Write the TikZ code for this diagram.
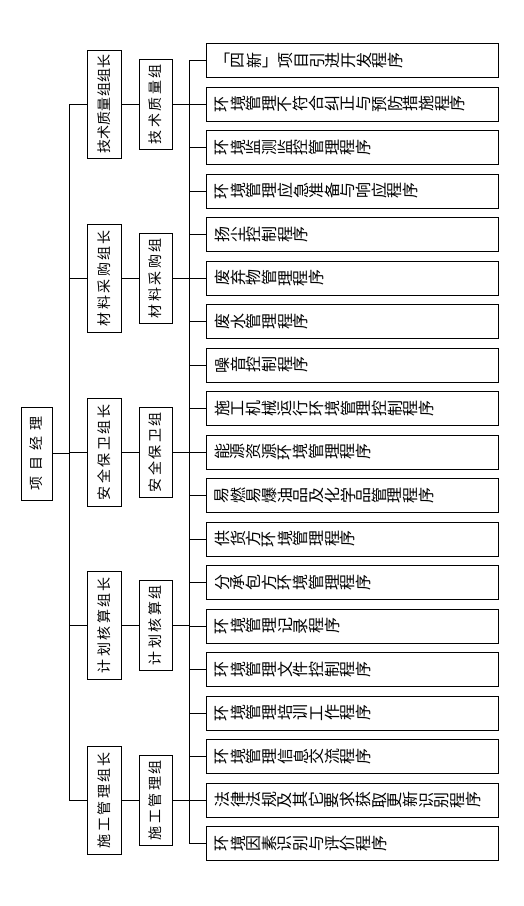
\documentclass[tikz,border=0pt]{standalone}
\usepackage{fontspec}
\usepackage{graphicx}
\newfontfamily\cjk{Noto Sans CJK SC}
\newcommand\rc[1]{\rcI#1\relax}
\def\rcI#1{\ifx\relax#1\else\makebox[15.7pt]{\rotatebox[origin=c]{90}{#1}}\expandafter\rcI\fi}
\tikzset{
  every path/.style={line width=0.9pt},
  leafbox/.style={draw, line width=0.9pt, anchor=west, minimum width=292pt, minimum height=34pt,
    text width=276pt, inner xsep=8pt, align=left, font=\cjk\fontsize{16pt}{16pt}\selectfont},
  lvone/.style={draw, line width=0.9pt, rotate=90, minimum width=108pt, minimum height=34pt, inner sep=0pt,
    font=\cjk\fontsize{14pt}{14pt}\selectfont},
  lvtwo/.style={draw, line width=0.9pt, rotate=90, minimum width=90pt, minimum height=33pt, inner sep=0pt,
    font=\cjk\fontsize{14pt}{14pt}\selectfont},
  rootbox/.style={draw, line width=0.9pt, rotate=90, minimum width=93pt, minimum height=31pt, inner sep=0pt,
    font=\cjk\fontsize{14pt}{14pt}\selectfont}
}
\begin{document}
\begin{tikzpicture}[x=1pt,y=-1pt]
\useasboundingbox (0,0) rectangle (523,906);
% leaves
\foreach \t [count=\i from 0] in {
  {「\rc{四新}」\rc{项目引进开发程序}},
  {\rc{环境管理不符合纠正与预防措施程序}},
  {\rc{环境监测监控管理程序}},
  {\rc{环境管理应急准备与响应程序}},
  {\rc{扬尘控制程序}},
  {\rc{废弃物管理程序}},
  {\rc{废水管理程序}},
  {\rc{噪音控制程序}},
  {\rc{施工机械运行环境管理控制程序}},
  {\rc{能源资源环境管理程序}},
  {\rc{易燃易爆油品及化学品管理程序}},
  {\rc{供货方环境管理程序}},
  {\rc{分承包方环境管理程序}},
  {\rc{环境管理记录程序}},
  {\rc{环境管理文件控制程序}},
  {\rc{环境管理培训工作程序}},
  {\rc{环境管理信息交流程序}},
  {\rc{法律法规及其它要求获取更新识别程序}},
  {\rc{环境因素识别与评价程序}}}
{
  \node[leafbox] (leaf\i) at (206, {60.5+43.5*\i}) {\t};
}
% root
\node[rootbox] (root) at (36.5,453.5) {\makebox[74pt]{项\hfill 目\hfill 经\hfill 理}};
% level one
\node[lvone] (l1a) at (104,104) {\makebox[99pt]{技\hfill 术\hfill 质\hfill 量\hfill 组\hfill 组\hfill 长}};
\node[lvone] (l1b) at (104,278) {\makebox[96pt]{材\hfill 料\hfill 采\hfill 购\hfill 组\hfill 长}};
\node[lvone] (l1c) at (104,452) {\makebox[96pt]{安\hfill 全\hfill 保\hfill 卫\hfill 组\hfill 长}};
\node[lvone] (l1d) at (104,625) {\makebox[96pt]{计\hfill 划\hfill 核\hfill 算\hfill 组\hfill 长}};
\node[lvone] (l1e) at (104,800) {\makebox[96pt]{施\hfill 工\hfill 管\hfill 理\hfill 组\hfill 长}};
% level two
\node[lvtwo] (l2a) at (155.5,104) {\makebox[80pt]{技\hfill 术\hfill 质\hfill 量\hfill 组}};
\node[lvtwo] (l2b) at (155.5,278) {\makebox[80pt]{材\hfill 料\hfill 采\hfill 购\hfill 组}};
\node[lvtwo] (l2c) at (155.5,452) {\makebox[80pt]{安\hfill 全\hfill 保\hfill 卫\hfill 组}};
\node[lvtwo] (l2d) at (155.5,625) {\makebox[80pt]{计\hfill 划\hfill 核\hfill 算\hfill 组}};
\node[lvtwo] (l2e) at (155.5,800) {\makebox[80pt]{施\hfill 工\hfill 管\hfill 理\hfill 组}};
% trunk and bus
\coordinate (tt) at (69,104);
\coordinate (tb) at (69,800);
\coordinate (bt) at (189,60.5);
\coordinate (bb) at (189,843.5);
\draw (tt) -- (tb);
\draw (bt) -- (bb);
\draw (root.south) -- (root.south -| tt);
\foreach \g in {a,b,c,d,e}{
  \draw (l1\g.north) -- (l1\g.north -| tt);
  \draw (l1\g.south) -- (l2\g.north);
  \draw (l2\g.south) -- (l2\g.south -| bt);
}
\foreach \i in {0,...,18}{
  \draw (leaf\i.west -| bt) -- (leaf\i.west);
}
\end{tikzpicture}
\end{document}
